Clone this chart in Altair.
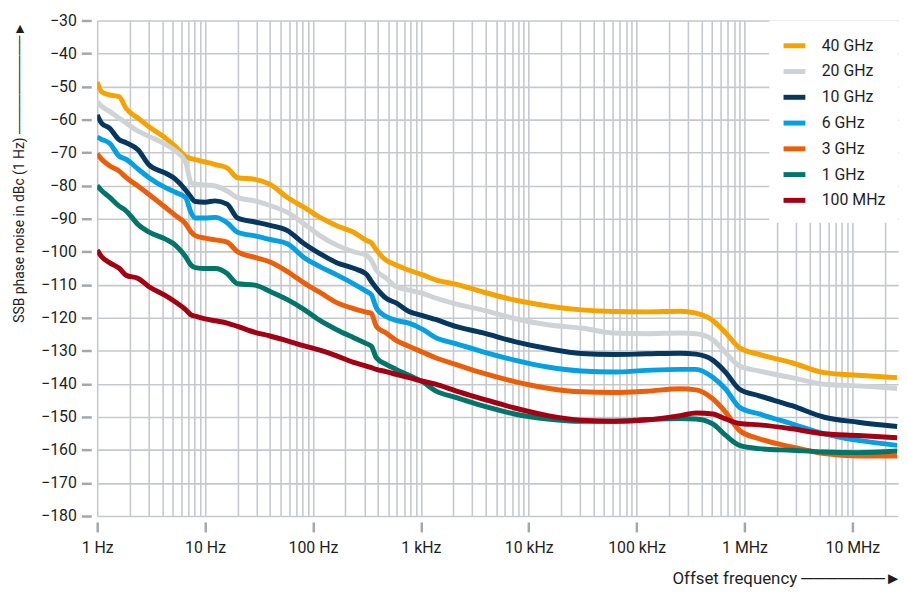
import altair as alt
import pandas as pd

# ---------------- data ----------------
freq_hz = [1, 1.1, 1.3, 1.6, 1.85, 2.4, 3, 4.3, 5.3, 6.6,
           7.4, 8.1, 10, 12.4, 16, 20, 29, 40, 58, 83,
           116, 166, 238, 313, 348, 387, 477, 590, 776, 1040,
           1370, 2100, 3700, 7400, 15000, 30600, 61500, 124000, 254000, 355000,
           508000, 670000, 900000, 1370000, 2750000, 5500000, 11300000, 26000000]

noise_40ghz = [-48.6, -51.6, -52.5, -53.1, -56.6, -59.6, -62.1, -65.6, -68.1, -71.1,
               -71.8, -72.1, -72.8, -73.6, -74.6, -77.6, -78.1, -79.6, -83.6, -86.6,
               -89.6, -92.1, -94.1, -96.6, -97.3, -99.5, -102.6, -104.0, -105.6, -107.0,
               -108.5, -109.8, -112.1, -114.6, -116.4, -117.6, -118.1, -118.2, -118.0, -118.6,
               -120.8, -124.6, -129.1, -131.1, -133.6, -136.6, -137.4, -138.1]
noise_20ghz = [-54.6, -56.0, -57.5, -59.6, -61.0, -63.5, -65.0, -67.5, -69.5, -72.8,
               -79.0, -79.5, -79.8, -80.1, -81.6, -83.6, -84.6, -86.0, -88.1, -91.6,
               -95.1, -98.0, -100.0, -101.1, -102.6, -105.6, -108.0, -110.6, -111.6, -112.6,
               -114.0, -115.8, -117.6, -120.2, -122.1, -123.1, -124.6, -124.8, -124.6, -124.8,
               -126.6, -130.6, -134.6, -136.1, -138.1, -140.1, -140.6, -141.4]
noise_10ghz = [-58.6, -61.1, -62.6, -66.1, -67.0, -69.2, -73.6, -76.2, -78.0, -81.3,
               -83.5, -84.8, -85.0, -84.6, -85.6, -89.8, -91.0, -92.0, -93.6, -97.6,
               -100.6, -103.3, -105.0, -106.8, -109.0, -111.0, -114.1, -115.5, -118.1, -119.3,
               -120.5, -122.6, -124.5, -127.2, -129.3, -130.8, -131.1, -130.9, -130.7, -131.0,
               -132.8, -136.5, -141.6, -143.6, -146.6, -150.1, -151.6, -152.9]
noise_6ghz = [-65.3, -66.0, -67.1, -71.1, -72.0, -75.0, -77.5, -80.6, -82.0, -83.6,
              -88.1, -89.8, -89.8, -89.6, -91.2, -94.1, -95.2, -96.3, -97.6, -101.8,
              -104.5, -107.0, -109.7, -112.0, -113.0, -117.0, -119.6, -120.8, -121.6, -123.5,
              -126.0, -127.8, -130.2, -132.8, -134.9, -136.1, -136.4, -135.9, -135.6, -135.6,
              -138.0, -141.6, -147.1, -149.1, -152.1, -155.1, -157.1, -158.6]
noise_3ghz = [-70.3, -72.0, -74.0, -75.6, -77.5, -80.2, -82.6, -86.6, -89.0, -91.5,
              -94.0, -95.1, -95.9, -96.4, -97.1, -100.0, -101.7, -103.1, -106.0, -109.5,
              -112.3, -115.4, -117.2, -118.3, -118.7, -122.6, -124.6, -126.8, -128.6, -130.4,
              -132.1, -134.1, -136.7, -139.3, -141.3, -142.4, -142.6, -142.2, -141.5, -141.8,
              -144.5, -148.6, -154.1, -156.6, -159.1, -161.1, -161.8, -161.8]
noise_1ghz = [-80.0, -81.5, -83.5, -86.2, -87.6, -91.8, -94.0, -96.2, -98.0, -101.5,
              -104.0, -104.8, -105.1, -105.1, -106.6, -109.7, -110.1, -112.0, -114.5, -117.5,
              -120.8, -123.6, -126.0, -127.8, -128.6, -132.1, -134.1, -135.6, -137.4, -139.4,
              -142.1, -144.1, -146.6, -149.1, -150.6, -151.3, -151.3, -150.8, -150.5, -150.6,
              -152.1, -155.6, -158.6, -159.6, -160.1, -160.6, -160.8, -160.3]
noise_100mhz = [-99.5, -101.5, -103.3, -105.0, -107.1, -108.1, -110.5, -113.3, -115.2, -117.5,
                -119.1, -119.5, -120.3, -120.9, -121.6, -122.6, -124.4, -125.5, -127.0, -128.5,
                -129.8, -131.5, -133.5, -134.6, -135.1, -135.6, -136.3, -137.1, -138.1, -139.2,
                -140.1, -142.1, -144.5, -147.3, -149.6, -151.0, -151.3, -150.9, -149.6, -148.8,
                -149.1, -150.6, -152.0, -152.4, -153.6, -155.1, -155.6, -156.3]

series_names = ["40 GHz", "20 GHz", "10 GHz", "6 GHz", "3 GHz", "1 GHz", "100 MHz"]
series_colors = ["#f5a300", "#cfd3d5", "#06385f", "#04a0e2", "#ec5f0a", "#00766b", "#a30014"]
series_values = [noise_40ghz, noise_20ghz, noise_10ghz, noise_6ghz,
                 noise_3ghz, noise_1ghz, noise_100mhz]

decade_values = [1, 10, 100, 1000, 10000, 100000, 1000000, 10000000]
decade_labels = ["1 Hz", "10 Hz", "100 Hz", "1 kHz", "10 kHz", "100 kHz", "1 MHz", "10 MHz"]
grid_values = [k * d for d in decade_values for k in range(1, 10) if k * d <= 20000000]
y_ticks = list(range(-180, -20, 10))

rows = []
for name, vals in zip(series_names, series_values):
    for f, v in zip(freq_hz, vals):
        rows.append({"freq": f, "noise": v, "carrier": name})
df = pd.DataFrame(rows)

FONT = "Roboto, 'Liberation Sans', sans-serif"
TEXT = "#1e1e1e"
GRID = "#c5c9cd"
TICK = "#a3a7ab"

label_expr = " : ".join(
    f"datum.value == {v} ? '{l}'" for v, l in zip(decade_values, decade_labels)
) + " : ''"
decade_test = "indexof([" + ",".join(str(v) for v in decade_values) + "], datum.value) >= 0"

x_axis = alt.Axis(
    values=grid_values, grid=True, gridColor=GRID, gridWidth=1.6,
    domain=False, ticks=True, tickSize=10, tickWidth=2.5, tickColor=TICK, offset=6,
    tickOpacity={"condition": {"test": decade_test, "value": 1}, "value": 0},
    labelExpr=label_expr, labelFont=FONT, labelFontSize=16, labelColor=TEXT,
    labelPadding=8, labelFlush=False, labelOverlap=False,
    title="Offset frequency  " + "\u2500" * 7 + "\u25BA", titleFont=FONT, titleFontSize=17,
    titleFontWeight="normal", titleColor=TEXT, titleAngle=0,
    titleX=811, titleY=57, titleAlign="right", titleBaseline="middle",
)

y_axis = alt.Axis(
    values=y_ticks, grid=True, gridColor=GRID, gridWidth=1.6,
    domain=False, tickSize=10, tickWidth=2.5, tickColor=TICK, offset=6,
    labelFont=FONT, labelFontSize=16, labelColor=TEXT, labelPadding=5,
    title="SSB phase noise in dBc (1 Hz)  " + "\u2500" * 10 + "\u25BA", titleFont=FONT,
    titleFontSize=14, titleFontWeight="normal", titleColor=TEXT, titleAngle=270,
    titleX=-72, titleY=1, titleAlign="right", titleBaseline="middle",
)

chart = alt.Chart(df).mark_line(strokeWidth=5, strokeJoin="round", interpolate="monotone",
                                clip=True).encode(
    x=alt.X("freq:Q", scale=alt.Scale(type="log", domain=[1, 26500000], nice=False), axis=x_axis),
    y=alt.Y("noise:Q", scale=alt.Scale(domain=[-180, -30], nice=False, zero=False), axis=y_axis),
    color=alt.Color(
        "carrier:N",
        sort=series_names,
        scale=alt.Scale(domain=series_names, range=series_colors),
        legend=alt.Legend(
            title=None, orient="top-right", offset=0, padding=12,
            fillColor="white", symbolType="stroke", symbolSize=484, symbolStrokeWidth=5,
            labelFont=FONT, labelFontSize=16, labelColor=TEXT, labelOffset=14,
            rowPadding=2,
        ),
    ),
).properties(
    width=808, height=500,
    autosize=alt.AutoSizeParams(type="none"),
    padding={"left": 90, "top": 10, "right": 2, "bottom": 70},
    background="white",
).configure_view(stroke="transparent")

chart.save("out.html", embed_options={"renderer": "svg", "actions": False})
